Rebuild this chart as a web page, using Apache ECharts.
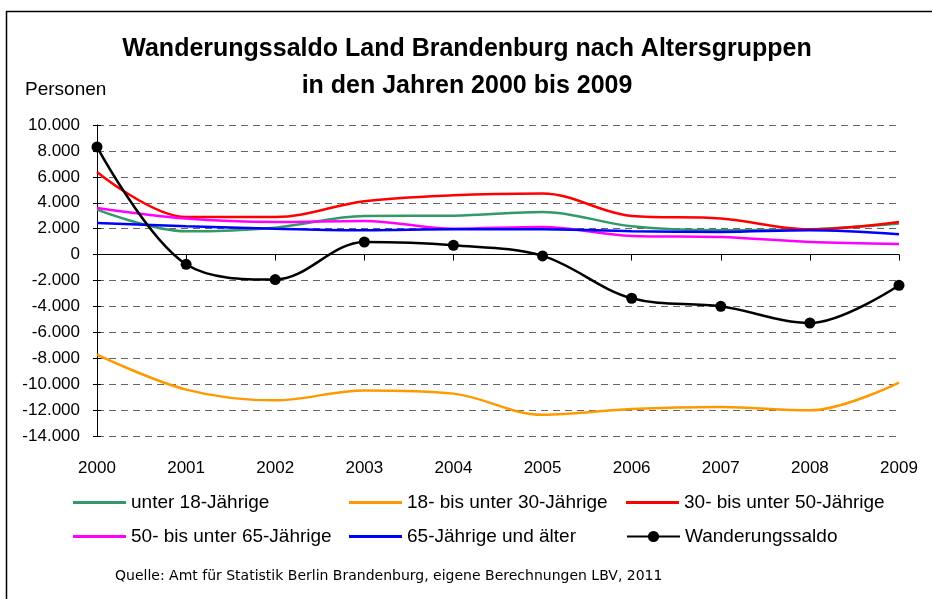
<!DOCTYPE html>
<html>
<head>
<meta charset="utf-8">
<script src="https://cdn.jsdelivr.net/npm/echarts@6/dist/echarts.min.js"></script>
<style>
  html, body { margin: 0; padding: 0; background: #fff; }
  #chart { width: 932px; height: 599px; }
</style>
</head>
<body>
<div id="chart"></div>
<script>
// Jahre (x-Achse)
const years = ['2000', '2001', '2002', '2003', '2004', '2005', '2006', '2007', '2008', '2009'];

// Wanderungssaldo je Altersgruppe (Personen)
const unter18 = [3470, 1800, 2080, 2980, 3000, 3290, 2180, 1880, 1950, 2390];
const von18bis30 = [-7720, -10420, -11250, -10480, -10730, -12360, -11920, -11770, -12020, -9880];
const von30bis50 = [6380, 2900, 2900, 4120, 4580, 4710, 2980, 2780, 1950, 2520];
const von50bis65 = [3600, 2780, 2520, 2600, 2000, 2130, 1440, 1360, 970, 820];
const ab65 = [2440, 2180, 2000, 1880, 1950, 1950, 1800, 1750, 1880, 1570];
const saldo = [8310, -750, -1930, 970, 720, -100, -3370, -3990, -5280, -2370];

const yMin = -14000, yMax = 10000, yStep = 2000;

const font = '"Liberation Sans", Arial, sans-serif';

function fmt(v) {
  // deutsches Tausendertrennzeichen
  const s = Math.abs(v).toString().replace(/\B(?=(\d{3})+(?!\d))/g, '.');
  return (v < 0 ? '-' : '') + s;
}

function line(name, data, color) {
  return {
    name: name,
    type: 'line',
    data: data,
    smooth: 0.35,
    symbol: 'none',
    lineStyle: { color: color, width: 2.5 },
    itemStyle: { color: color },
    z: 3
  };
}

// eine Legende je Eintrag, damit die Position wie im Original sitzt
function legendAt(name, left, top, plain) {
  const l = {
    data: [name],
    left: left, top: top, padding: 0,
    itemWidth: 53, itemHeight: plain ? 3 : 14, itemGap: 4,
    textStyle: { fontFamily: font, fontSize: 19, color: '#000' }
  };
  if (plain) l.icon = 'rect';
  return l;
}

const chart = echarts.init(document.getElementById('chart'));

chart.setOption({
  animation: false,
  backgroundColor: '#fff',
  textStyle: { fontFamily: font },
  title: {
    text: 'Wanderungssaldo Land Brandenburg nach Altersgruppen\nin den Jahren 2000 bis 2009',
    left: 462,
    top: 26,
    textAlign: 'center',
    textStyle: { fontFamily: font, fontSize: 25, fontWeight: 'bold', color: '#000', lineHeight: 37 }
  },
  grid: { left: 97, right: 33, top: 125, bottom: 163 },
  legend: [
    legendAt('unter 18-Jährige', 73, 493, true),
    legendAt('18- bis unter 30-Jährige', 349, 493, true),
    legendAt('30- bis unter 50-Jährige', 626, 493, true),
    legendAt('50- bis unter 65-Jährige', 73, 527, true),
    legendAt('65-Jährige und älter', 349, 527, true),
    legendAt('Wanderungssaldo', 626, 527, false)
  ],
  xAxis: [
    {
      type: 'category',
      data: years,
      boundaryGap: false,
      axisLine: { onZero: true, lineStyle: { color: '#000', width: 1 } },
      axisTick: { show: true, inside: false, length: 6, lineStyle: { color: '#000' } },
      axisLabel: { show: false },
      splitLine: { show: false }
    },
    {
      type: 'category',
      data: years,
      boundaryGap: false,
      position: 'bottom',
      axisLine: { show: false, onZero: false },
      axisTick: { show: false },
      axisLabel: { show: true, margin: 24, fontFamily: font, fontSize: 17, color: '#000' },
      splitLine: { show: false }
    }
  ],
  yAxis: [
    {
      type: 'value',
      min: yMin, max: yMax, interval: yStep,
      name: 'Personen',
      nameLocation: 'end',
      nameGap: 26,
      nameTextStyle: { fontFamily: font, fontSize: 19, color: '#000', align: 'left', padding: [0, 0, 0, -72] },
      axisLine: { show: true, lineStyle: { color: '#000', width: 1 } },
      axisTick: { show: true, inside: false, length: 4, lineStyle: { color: '#000' } },
      axisLabel: { fontFamily: font, fontSize: 17, color: '#000', margin: 17, formatter: fmt },
      splitLine: { show: true, lineStyle: { color: '#666', type: [7, 5], width: 1 } }
    },
    {
      type: 'value',
      min: yMin, max: yMax, interval: yStep,
      position: 'left',
      axisLine: { show: false },
      axisTick: { show: true, inside: true, length: 4, lineStyle: { color: '#000' } },
      axisLabel: { show: false },
      splitLine: { show: false }
    }
  ],
  series: [
    line('unter 18-Jährige', unter18, '#339966'),
    line('18- bis unter 30-Jährige', von18bis30, '#FF9900'),
    line('30- bis unter 50-Jährige', von30bis50, '#FF0000'),
    line('50- bis unter 65-Jährige', von50bis65, '#FF00FF'),
    line('65-Jährige und älter', ab65, '#0000FF'),
    {
      name: 'Wanderungssaldo',
      type: 'line',
      data: saldo,
      smooth: 0.35,
      symbol: 'circle',
      symbolSize: 11,
      showAllSymbol: true,
      lineStyle: { color: '#000', width: 2.5 },
      itemStyle: { color: '#000' },
      z: 4
    }
  ],
  graphic: [
    {
      type: 'polyline',
      shape: { points: [[6.5, 640], [6.5, 11.5], [960, 11.5]] },
      style: { stroke: '#000', lineWidth: 1.5, fill: null },
      silent: true
    },
    {
      type: 'text',
      left: 115,
      top: 569,
      style: {
        text: 'Quelle: Amt für Statistik Berlin Brandenburg, eigene Berechnungen LBV, 2011',
        font: '14px "DejaVu Sans", sans-serif',
        fill: '#000'
      }
    }
  ]
});
</script>
</body>
</html>
